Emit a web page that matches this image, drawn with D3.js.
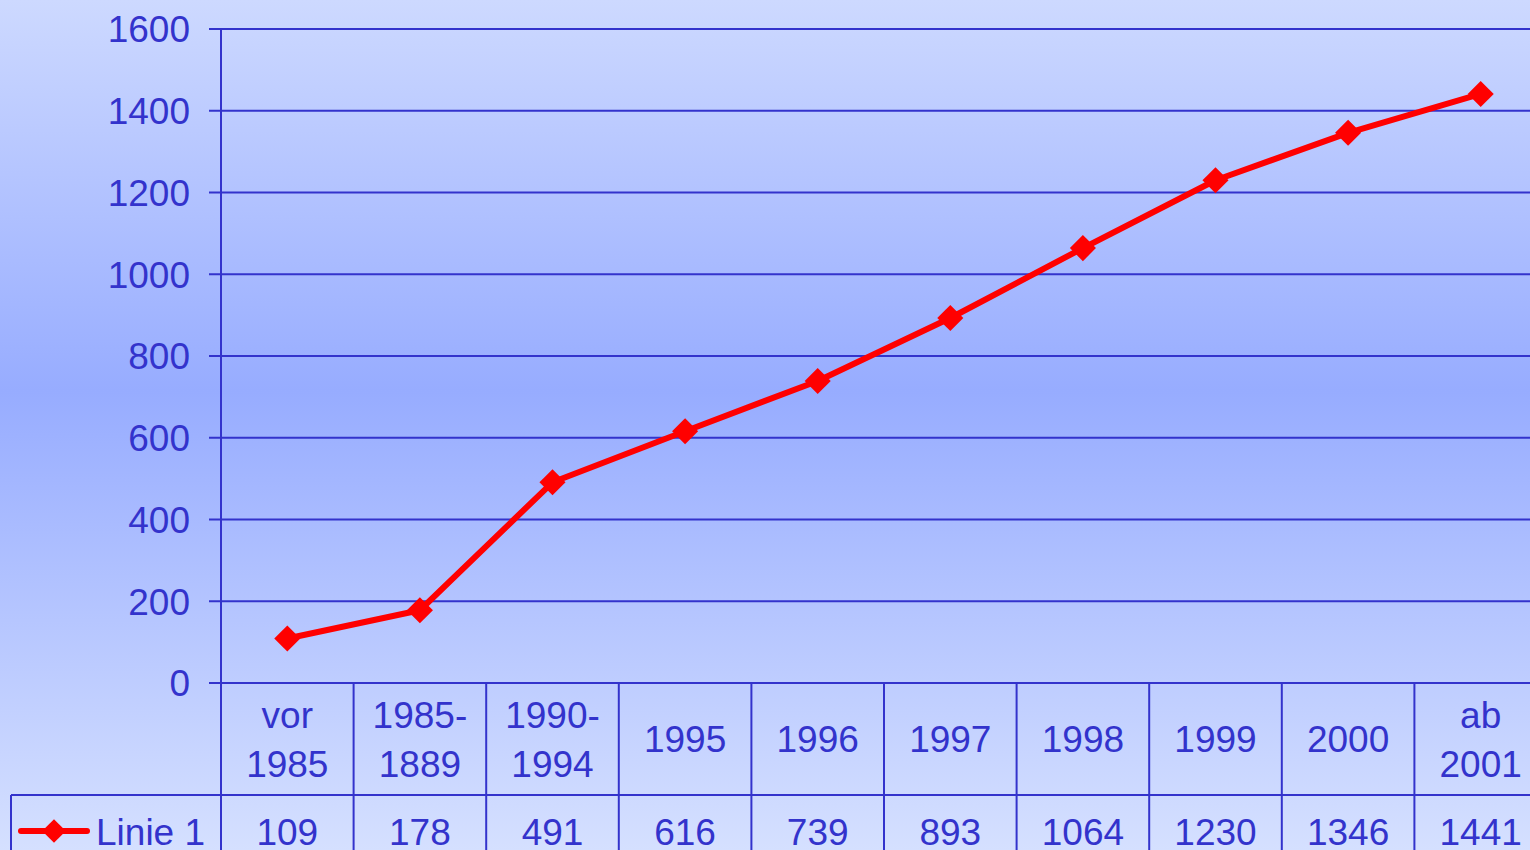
<!DOCTYPE html>
<html>
<head>
<meta charset="utf-8">
<script src="https://cdn.jsdelivr.net/npm/d3@7"></script>
<style>
  body { margin: 0; overflow: hidden; }
  svg { display: block; font-family: "Liberation Sans", Arial, sans-serif; }
</style>
</head>
<body>
<svg id="chart"></svg>
<script>
// chart data
const categories = ["vor\n1985", "1985-\n1889", "1990-\n1994", "1995", "1996", "1997", "1998", "1999", "2000", "ab\n2001"];
const values = [109, 178, 491, 616, 739, 893, 1064, 1230, 1346, 1441];
const yTicks = [0, 200, 400, 600, 800, 1000, 1200, 1400, 1600];
const seriesName = "Linie 1";

const width = 1530;
const height = 850;
const blue = "#3333cc";
const red = "#ff0000";

const svg = d3.select('#chart')
	.attr('width', width)
	.attr('height', height);

// background gradient
const grad = svg.append('defs').append('linearGradient')
	.attr('id', 'bg')
	.attr('x1', 0).attr('y1', 0).attr('x2', 0).attr('y2', 1);
grad.append('stop').attr('offset', '0%').attr('stop-color', '#cdd9ff');
grad.append('stop').attr('offset', '46%').attr('stop-color', '#97acff');
grad.append('stop').attr('offset', '100%').attr('stop-color', '#d5e0ff');

svg.append('rect')
	.attr('width', width)
	.attr('height', height)
	.attr('fill', 'url(#bg)');

const left = 221;
const xScale = d3.scaleBand().domain(categories).range([left, left + 10 * 132.6]).padding(0);
const yScale = d3.scaleLinear().domain([0, 1600]).range([683, 29]);
const cx = d => xScale(d) + xScale.bandwidth() / 2;

// gridlines
svg.append('g')
	.selectAll('line')
	.data(yTicks)
	.join('line')
	.attr('x1', 209)
	.attr('x2', width)
	.attr('y1', d => yScale(d))
	.attr('y2', d => yScale(d))
	.attr('stroke', blue)
	.attr('stroke-width', 2);

// y axis labels
svg.append('g')
	.selectAll('text')
	.data(yTicks)
	.join('text')
	.attr('x', 190)
	.attr('y', d => yScale(d))
	.attr('dy', '0.36em')
	.attr('text-anchor', 'end')
	.attr('fill', blue)
	.attr('font-size', 37)
	.text(d => d);

// vertical axis line
svg.append('line')
	.attr('x1', left).attr('x2', left)
	.attr('y1', yScale(1600)).attr('y2', height)
	.attr('stroke', blue).attr('stroke-width', 2);

// data table
const tableTop = yScale(0);
const rowLine = 795;

svg.append('g')
	.selectAll('line')
	.data(categories)
	.join('line')
	.attr('x1', d => xScale(d) + xScale.bandwidth())
	.attr('x2', d => xScale(d) + xScale.bandwidth())
	.attr('y1', tableTop)
	.attr('y2', height)
	.attr('stroke', blue)
	.attr('stroke-width', 2);

svg.append('line')
	.attr('x1', 11).attr('x2', width)
	.attr('y1', rowLine).attr('y2', rowLine)
	.attr('stroke', blue).attr('stroke-width', 2);

svg.append('line')
	.attr('x1', 11).attr('x2', 11)
	.attr('y1', rowLine).attr('y2', height)
	.attr('stroke', blue).attr('stroke-width', 2);

// category labels
svg.append('g')
	.selectAll('text')
	.data(categories)
	.join('text')
	.attr('text-anchor', 'middle')
	.attr('fill', blue)
	.attr('font-size', 37)
	.each(function(d) {
		const lines = d.split("\n");
		const t = d3.select(this);
		if (lines.length === 1) {
			t.append('tspan').attr('x', cx(d)).attr('y', 752).text(lines[0]);
		} else {
			t.append('tspan').attr('x', cx(d)).attr('y', 728).text(lines[0]);
			t.append('tspan').attr('x', cx(d)).attr('y', 777).text(lines[1]);
		}
	});

// value row
svg.append('g')
	.selectAll('text')
	.data(values)
	.join('text')
	.attr('x', (d, i) => cx(categories[i]))
	.attr('y', 845)
	.attr('text-anchor', 'middle')
	.attr('fill', blue)
	.attr('font-size', 37)
	.text(d => d);

// legend key
svg.append('line')
	.attr('x1', 21).attr('x2', 87)
	.attr('y1', 831).attr('y2', 831)
	.attr('stroke', red).attr('stroke-width', 6).attr('stroke-linecap', 'round');
svg.append('path')
	.attr('d', d3.symbol().type(d3.symbolSquare).size(280)())
	.attr('transform', 'translate(54,831) rotate(45)')
	.attr('fill', red);
svg.append('text')
	.attr('x', 96).attr('y', 845)
	.attr('fill', blue).attr('font-size', 37)
	.text(seriesName);

// the line
const line = d3.line()
	.x((d, i) => cx(categories[i]))
	.y(d => yScale(d));

svg.append('path')
	.datum(values)
	.attr('d', line)
	.attr('fill', 'none')
	.attr('stroke', red)
	.attr('stroke-width', 6)
	.attr('stroke-linejoin', 'round');

svg.append('g')
	.selectAll('path')
	.data(values)
	.join('path')
	.attr('d', d3.symbol().type(d3.symbolSquare).size(340)())
	.attr('transform', (d, i) => `translate(${cx(categories[i])},${yScale(d)}) rotate(45)`)
	.attr('fill', red);
</script>
</body>
</html>
